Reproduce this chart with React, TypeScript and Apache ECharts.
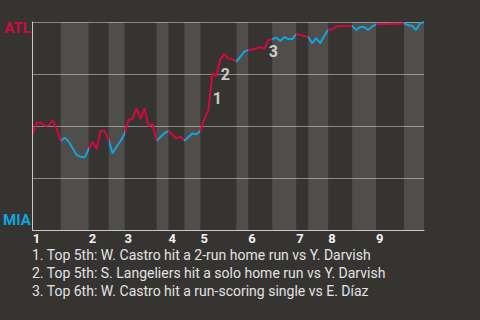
import React, { useEffect, useRef } from "react";
import * as echarts from "echarts";

// ATL win probability (%) after each play, play index 0..98
const winProb: number[] = [
  46.0, 51.6, 51.6, 50.1, 50.3, 52.7, 48.6, 42.8, 44.4, 42.5,
  39.3, 36.1, 35.2, 34.8, 38.8, 42.5, 38.9, 47.7, 47.7, 43.3,
  36.9, 40.0, 42.8, 46.2, 52.9, 53.4, 58.5, 53.4, 58.5, 50.0,
  51.0, 42.9, 44.7, 46.6, 47.7, 45.7, 44.1, 44.9, 42.9, 44.7,
  46.4, 46.0, 47.6, 53.4, 57.7, 75.3, 74.0, 82.2, 84.5, 82.5,
  82.2, 81.0, 83.3, 85.8, 86.5, 86.8, 87.3, 88.0, 87.0, 91.3,
  91.7, 92.5, 90.9, 92.8, 91.8, 91.8, 94.2, 93.8, 93.3, 92.8,
  89.8, 92.2, 89.8, 93.3, 96.2, 96.5, 97.8, 98.1, 98.1, 98.1,
  98.1, 96.2, 97.6, 97.6, 96.2, 97.8, 98.9, 99.0, 99.0, 99.0,
  99.2, 99.2, 99.2, 99.4, 98.4, 98.2, 96.2, 99.3, 100,
];

// play index where each half-inning starts (top 1st, bottom 1st, ... , bottom 9th), plus the end
const halfInningStarts: number[] = [0, 7, 14, 19, 23, 31, 34, 38, 42, 51, 54, 60, 66, 69, 74, 80, 86, 93, 98];
const inningLabels: string[] = ["1", "2", "3", "4", "5", "6", "7", "8", "9"];

const keyPlays: number[] = [45, 47, 59];
const keyPlayLabels: string[] = ["1", "2", "3"];
const notes: string[] = [
  "1. Top 5th: W. Castro hit a 2-run home run vs Y. Darvish",
  "2. Top 5th: S. Langeliers hit a solo home run vs Y. Darvish",
  "3. Top 6th: W. Castro hit a run-scoring single vs E. Díaz",
];

const RED = "#d4083f";
const BLUE = "#12a3e0";
const BG = "#363431";
const BAND = "rgba(255,255,255,0.13)";

export default function App() {
  const ref = useRef<HTMLDivElement>(null);
  useEffect(() => {
    if (!ref.current) return;
    const chart = echarts.init(ref.current, null, { renderer: "svg" });
    const lastPlay = winProb.length - 1;
    const topStarts = halfInningStarts.filter((_, k) => k % 2 === 0 && k < halfInningStarts.length - 1);
    const bands: any[] = [];
    for (let k = 1; k < halfInningStarts.length - 1; k += 2) {
      bands.push([{ xAxis: halfInningStarts[k] }, { xAxis: halfInningStarts[k + 1] }]);
    }
    const pieces: any[] = [];
    for (let k = 0; k < halfInningStarts.length - 1; k++) {
      const p: any = { gte: halfInningStarts[k], color: k % 2 === 0 ? RED : BLUE };
      if (k < halfInningStarts.length - 2) p.lt = halfInningStarts[k + 1];
      else p.lte = halfInningStarts[k + 1];
      pieces.push(p);
    }
    chart.setOption({
      animation: false,
      backgroundColor: BG,
      grid: { left: 31, right: 56, top: 22, bottom: 90 },
      xAxis: {
        type: "value",
        min: 0,
        max: lastPlay,
        axisLine: { show: true, lineStyle: { color: "#c8c8c8", width: 1 } },
        axisTick: { show: false },
        splitLine: { show: false },
        axisLabel: {
          customValues: topStarts,
          formatter: (v: number) => {
            const idx = topStarts.indexOf(v);
            return idx >= 0 ? inningLabels[idx] : "";
          },
          align: "left",
          margin: 2,
          color: "#f2f2f2",
          fontWeight: "bold",
          fontSize: 13,
          lineHeight: 13,
          fontFamily: "Roboto",
        },
      },
      yAxis: {
        type: "value",
        min: 0,
        max: 100,
        interval: 25,
        axisLine: { show: true, lineStyle: { color: "#c8c8c8", width: 1 } },
        axisTick: { show: false },
        splitLine: { show: true, lineStyle: { color: "#8a8886", width: 1 } },
        axisLabel: {
          customValues: [0, 100],
          margin: 2,
          formatter: (v: number) => (v === 100 ? "{atl|ATL}" : "{mia|MIA}"),
          rich: {
            atl: { color: RED, fontWeight: "bold", fontSize: 15, fontFamily: "Roboto", padding: [12, 0, 0, 0] },
            mia: { color: BLUE, fontWeight: "bold", fontSize: 15, fontFamily: "Roboto", padding: [0, 0, 21, 0] },
          },
        },
      },
      visualMap: {
        type: "piecewise",
        show: false,
        dimension: 0,
        seriesIndex: 1,
        pieces,
      },
      series: [
        {
          type: "line",
          data: [],
          silent: true,
          markArea: { silent: true, itemStyle: { color: BAND }, data: bands },
        },
        {
          type: "line",
          z: 3,
          symbol: "none",
          lineStyle: { width: 2 },
          data: winProb.map((v, i) => [i, v]),
        },
        {
          type: "scatter",
          z: 4,
          symbolSize: 1,
          itemStyle: { color: "rgba(0,0,0,0)" },
          silent: true,
          data: keyPlays.map((p, k) => ({
            value: [p - 0.5, (winProb[p - 1] + winProb[p]) / 2],
            label: { formatter: keyPlayLabels[k] },
          })),
          label: {
            show: true,
            position: "inside",
            offset: [7, 7],
            color: "#f2f2f2",
            fontWeight: "bold",
            fontSize: 16,
            fontFamily: "Roboto",
          },
        },
      ],
      graphic: [
        {
          type: "text",
          left: 32,
          top: 246,
          style: {
            text: notes.join("\n"),
            fill: "#e2e2e2",
            fontSize: 14,
            fontFamily: "Roboto",
            lineHeight: 18,
          },
        },
      ],
    });
    return () => chart.dispose();
  }, []);
  return <div ref={ref} style={{ position: "fixed", left: 0, top: 0, width: 480, height: 320 }} />;
}
